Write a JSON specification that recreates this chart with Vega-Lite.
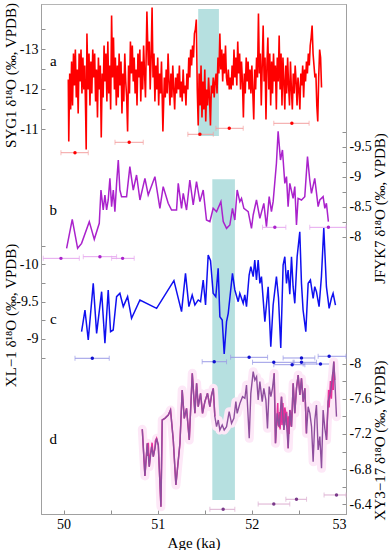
{
"$schema":"https://vega.github.io/schema/vega-lite/v6.json",
"width":305,"height":510,
"autosize":{"type":"none"},
"padding":{"left":41,"top":4,"right":44,"bottom":36},
"config":{"font":"Liberation Serif","view":{"stroke":"#b5b5b5"},
"axis":{"domainColor":"#a0a0a0","tickColor":"#909090","tickSize":-4,"labelPadding":7,"labelFontSize":14,"labelColor":"#000","titleFontSize":15,"titleFontWeight":"normal","titleColor":"#000","grid":false,"labelFont":"Liberation Serif","titleFont":"Liberation Serif"}},
"datasets":{
"a":[{"age":50.05,"v":-12.25},{"age":50.055,"v":-10.7},{"age":50.065,"v":-12.4},{"age":50.075,"v":-11.5},{"age":50.085,"v":-12.7},{"age":50.095,"v":-11.6},{"age":50.105,"v":-12.9},{"age":50.115,"v":-12.1},{"age":50.125,"v":-13.0},{"age":50.135,"v":-11.8},{"age":50.145,"v":-12.5},{"age":50.155,"v":-11.4},{"age":50.165,"v":-12.9},{"age":50.175,"v":-12.2},{"age":50.185,"v":-13.0},{"age":50.195,"v":-11.9},{"age":50.205,"v":-12.8},{"age":50.215,"v":-12.0},{"age":50.225,"v":-12.6},{"age":50.235,"v":-11.3},{"age":50.24,"v":-10.5},{"age":50.248,"v":-13.4},{"age":50.26,"v":-12.0},{"age":50.27,"v":-12.9},{"age":50.28,"v":-11.6},{"age":50.29,"v":-12.7},{"age":50.30,"v":-11.9},{"age":50.31,"v":-13.0},{"age":50.32,"v":-12.3},{"age":50.33,"v":-12.9},{"age":50.34,"v":-11.7},{"age":50.35,"v":-12.5},{"age":50.36,"v":-11.3},{"age":50.37,"v":-12.8},{"age":50.38,"v":-12.0},{"age":50.39,"v":-12.6},{"age":50.40,"v":-10.8},{"age":50.41,"v":-12.4},{"age":50.42,"v":-11.8},{"age":50.43,"v":-13.1},{"age":50.44,"v":-12.2},{"age":50.45,"v":-12.9},{"age":50.46,"v":-11.7},{"age":50.47,"v":-13.2},{"age":50.48,"v":-11.9},{"age":50.49,"v":-12.6},{"age":50.50,"v":-11.5},{"age":50.51,"v":-13.85},{"age":50.52,"v":-12.3},{"age":50.53,"v":-13.3},{"age":50.54,"v":-12.0},{"age":50.55,"v":-12.8},{"age":50.56,"v":-11.6},{"age":50.57,"v":-12.6},{"age":50.58,"v":-11.8},{"age":50.59,"v":-12.9},{"age":50.60,"v":-12.1},{"age":50.61,"v":-12.7},{"age":50.62,"v":-11.4},{"age":50.63,"v":-12.4},{"age":50.64,"v":-11.7},{"age":50.65,"v":-12.9},{"age":50.66,"v":-12.2},{"age":50.67,"v":-11.8},{"age":50.68,"v":-10.95},{"age":50.69,"v":-12.6},{"age":50.70,"v":-11.9},{"age":50.71,"v":-13.2},{"age":50.72,"v":-12.4},{"age":50.73,"v":-13.1},{"age":50.74,"v":-12.2},{"age":50.75,"v":-12.8},{"age":50.76,"v":-11.9},{"age":50.77,"v":-12.5},{"age":50.78,"v":-11.6},{"age":50.79,"v":-12.9},{"age":50.80,"v":-12.3},{"age":50.81,"v":-13.0},{"age":50.82,"v":-11.7},{"age":50.83,"v":-12.7},{"age":50.84,"v":-12.0},{"age":50.85,"v":-13.1},{"age":50.86,"v":-12.4},{"age":50.87,"v":-11.8},{"age":50.885,"v":-13.95},{"age":50.90,"v":-12.6},{"age":50.91,"v":-13.2},{"age":50.92,"v":-12.0},{"age":50.93,"v":-12.8},{"age":50.94,"v":-14.05},{"age":50.95,"v":-12.3},{"age":50.96,"v":-12.9},{"age":50.97,"v":-11.7},{"age":50.98,"v":-12.6},{"age":50.99,"v":-12.0},{"age":51.00,"v":-12.8},{"age":51.01,"v":-11.6},{"age":51.02,"v":-12.4},{"age":51.03,"v":-11.9},{"age":51.04,"v":-12.7},{"age":51.055,"v":-10.95},{"age":51.07,"v":-12.3},{"age":51.08,"v":-11.8},{"age":51.09,"v":-12.5},{"age":51.10,"v":-11.9},{"age":51.11,"v":-12.9},{"age":51.12,"v":-12.2},{"age":51.13,"v":-11.6},{"age":51.14,"v":-12.4},{"age":51.15,"v":-11.8},{"age":51.16,"v":-12.6},{"age":51.17,"v":-12.0},{"age":51.18,"v":-11.5},{"age":51.19,"v":-12.3},{"age":51.20,"v":-11.9},{"age":51.21,"v":-12.4},{"age":51.22,"v":-12.0},{"age":51.23,"v":-12.6},{"age":51.24,"v":-11.8},{"age":51.25,"v":-12.2},{"age":51.26,"v":-11.7},{"age":51.27,"v":-12.5},{"age":51.28,"v":-11.9},{"age":51.29,"v":-12.1},{"age":51.30,"v":-11.6},{"age":51.31,"v":-12.4},{"age":51.32,"v":-12.0},{"age":51.33,"v":-12.8},{"age":51.34,"v":-12.3},{"age":51.35,"v":-13.0},{"age":51.36,"v":-12.6},{"age":51.37,"v":-13.1},{"age":51.38,"v":-12.8},{"age":51.39,"v":-13.4},{"age":51.40,"v":-13.5},{"age":51.41,"v":-13.75},{"age":51.42,"v":-12.0},{"age":51.43,"v":-11.1},{"age":51.44,"v":-12.4},{"age":51.45,"v":-11.6},{"age":51.46,"v":-12.6},{"age":51.47,"v":-11.3},{"age":51.48,"v":-12.2},{"age":51.49,"v":-11.5},{"age":51.50,"v":-12.5},{"age":51.51,"v":-11.2},{"age":51.52,"v":-12.0},{"age":51.53,"v":-11.6},{"age":51.54,"v":-12.3},{"age":51.55,"v":-11.8},{"age":51.56,"v":-11.1},{"age":51.57,"v":-12.1},{"age":51.58,"v":-11.9},{"age":51.59,"v":-12.3},{"age":51.60,"v":-11.8},{"age":51.61,"v":-12.2},{"age":51.62,"v":-12.4},{"age":51.63,"v":-11.9},{"age":51.64,"v":-12.8},{"age":51.65,"v":-12.4},{"age":51.66,"v":-13.4},{"age":51.67,"v":-12.5},{"age":51.68,"v":-13.0},{"age":51.69,"v":-12.2},{"age":51.70,"v":-12.9},{"age":51.71,"v":-12.4},{"age":51.72,"v":-13.1},{"age":51.73,"v":-12.3},{"age":51.74,"v":-12.1},{"age":51.75,"v":-12.5},{"age":51.76,"v":-12.0},{"age":51.77,"v":-12.3},{"age":51.78,"v":-12.0},{"age":51.79,"v":-12.6},{"age":51.80,"v":-12.1},{"age":51.81,"v":-13.0},{"age":51.82,"v":-12.3},{"age":51.83,"v":-12.8},{"age":51.84,"v":-12.1},{"age":51.85,"v":-13.2},{"age":51.86,"v":-12.4},{"age":51.87,"v":-12.9},{"age":51.88,"v":-12.0},{"age":51.89,"v":-12.7},{"age":51.90,"v":-12.2},{"age":51.91,"v":-11.3},{"age":51.92,"v":-12.4},{"age":51.93,"v":-11.9},{"age":51.94,"v":-12.8},{"age":51.95,"v":-12.2},{"age":51.96,"v":-12.7},{"age":51.97,"v":-12.0},{"age":51.98,"v":-12.5},{"age":51.99,"v":-11.9},{"age":52.00,"v":-12.6},{"age":52.02,"v":-11.25},{"age":52.03,"v":-12.5},{"age":52.04,"v":-12.0},{"age":52.05,"v":-12.8},{"age":52.06,"v":-12.3},{"age":52.07,"v":-13.9},{"age":52.08,"v":-12.4},{"age":52.09,"v":-12.9},{"age":52.10,"v":-11.6},{"age":52.11,"v":-12.6},{"age":52.12,"v":-13.6},{"age":52.13,"v":-12.2},{"age":52.14,"v":-12.8},{"age":52.15,"v":-11.25},{"age":52.16,"v":-12.6},{"age":52.17,"v":-13.3},{"age":52.18,"v":-12.0},{"age":52.19,"v":-12.9},{"age":52.20,"v":-11.6},{"age":52.21,"v":-12.7},{"age":52.22,"v":-11.9},{"age":52.23,"v":-12.9},{"age":52.24,"v":-12.2},{"age":52.25,"v":-12.6},{"age":52.26,"v":-11.5},{"age":52.27,"v":-12.8},{"age":52.28,"v":-12.2},{"age":52.29,"v":-13.35},{"age":52.30,"v":-12.0},{"age":52.31,"v":-12.9},{"age":52.32,"v":-11.6},{"age":52.33,"v":-12.8},{"age":52.34,"v":-12.2},{"age":52.35,"v":-11.5},{"age":52.36,"v":-12.6},{"age":52.37,"v":-11.9},{"age":52.38,"v":-12.8},{"age":52.39,"v":-12.1},{"age":52.40,"v":-11.6},{"age":52.41,"v":-12.7},{"age":52.42,"v":-12.0},{"age":52.43,"v":-11.5},{"age":52.44,"v":-12.4},{"age":52.45,"v":-11.9},{"age":52.46,"v":-12.6},{"age":52.47,"v":-12.2},{"age":52.48,"v":-11.6},{"age":52.49,"v":-12.3},{"age":52.50,"v":-12.0},{"age":52.51,"v":-11.5},{"age":52.52,"v":-12.4},{"age":52.53,"v":-12.1},{"age":52.54,"v":-12.6},{"age":52.55,"v":-11.8},{"age":52.56,"v":-12.5},{"age":52.57,"v":-12.2},{"age":52.58,"v":-12.7},{"age":52.59,"v":-12.4},{"age":52.60,"v":-12.9},{"age":52.61,"v":-12.6},{"age":52.62,"v":-13.1},{"age":52.63,"v":-13.3},{"age":52.64,"v":-13.6},{"age":52.65,"v":-12.9},{"age":52.66,"v":-12.6},{"age":52.67,"v":-12.3},{"age":52.68,"v":-12.4},{"age":52.69,"v":-11.6},{"age":52.70,"v":-11.2},{"age":52.71,"v":-12.3},{"age":52.72,"v":-13.0},{"age":52.73,"v":-12.8},{"age":52.74,"v":-12.05}],
"a_err":[{"c":50.121,"lo":49.972,"hi":50.262,"v":-10.42},{"c":50.697,"lo":50.546,"hi":50.846,"v":-10.68},{"c":51.448,"lo":51.32,"hi":51.59,"v":-10.88},{"c":51.76,"lo":51.618,"hi":51.908,"v":-11.03},{"c":52.425,"lo":52.233,"hi":52.608,"v":-11.155}],
"b":[{"age":50.032,"v":-7.811},{"age":50.092,"v":-8.294},{"age":50.149,"v":-7.811},{"age":50.191,"v":-7.894},{"age":50.273,"v":-8.256},{"age":50.326,"v":-7.961},{"age":50.379,"v":-8.228},{"age":50.397,"v":-8.783},{"age":50.421,"v":-8.45},{"age":50.439,"v":-8.7},{"age":50.457,"v":-8.45},{"age":50.474,"v":-8.617},{"age":50.492,"v":-8.978},{"age":50.51,"v":-8.506},{"age":50.528,"v":-8.783},{"age":50.545,"v":-8.422},{"age":50.563,"v":-8.894},{"age":50.581,"v":-9.283},{"age":50.598,"v":-8.783},{"age":50.616,"v":-8.672},{"age":50.634,"v":-8.672},{"age":50.669,"v":-8.672},{"age":50.704,"v":-9.172},{"age":50.74,"v":-8.783},{"age":50.775,"v":-9.033},{"age":50.811,"v":-8.617},{"age":50.864,"v":-8.978},{"age":50.899,"v":-8.7},{"age":50.97,"v":-9.006},{"age":51.023,"v":-8.478},{"age":51.058,"v":-8.839},{"age":51.111,"v":-8.561},{"age":51.147,"v":-8.45},{"age":51.2,"v":-8.45},{"age":51.218,"v":-8.894},{"age":51.253,"v":-8.478},{"age":51.271,"v":-8.728},{"age":51.306,"v":-8.45},{"age":51.341,"v":-8.95},{"age":51.377,"v":-8.533},{"age":51.412,"v":-8.922},{"age":51.448,"v":-8.589},{"age":51.483,"v":-8.783},{"age":51.518,"v":-8.283},{"age":51.554,"v":-8.256},{"age":51.589,"v":-8.478},{"age":51.625,"v":-8.422},{"age":51.671,"v":-8.589},{"age":51.696,"v":-8.256},{"age":51.731,"v":-8.144},{"age":51.766,"v":-8.2},{"age":51.794,"v":-8.478},{"age":51.819,"v":-8.283},{"age":51.844,"v":-8.783},{"age":51.872,"v":-8.589},{"age":51.89,"v":-8.644},{"age":51.915,"v":-8.478},{"age":51.961,"v":-8.422},{"age":51.996,"v":-8.144},{"age":52.014,"v":-8.367},{"age":52.049,"v":-8.617},{"age":52.085,"v":-8.311},{"age":52.127,"v":-8.561},{"age":52.155,"v":-8.172},{"age":52.184,"v":-8.672},{"age":52.208,"v":-8.422},{"age":52.226,"v":-8.589},{"age":52.261,"v":-9.228},{"age":52.279,"v":-9.76},{"age":52.304,"v":-9.283},{"age":52.325,"v":-9.45},{"age":52.35,"v":-8.894},{"age":52.368,"v":-9.006},{"age":52.385,"v":-8.506},{"age":52.403,"v":-8.894},{"age":52.438,"v":-8.644},{"age":52.456,"v":-8.839},{"age":52.474,"v":-8.2},{"age":52.491,"v":-8.644},{"age":52.527,"v":-8.617},{"age":52.562,"v":-8.672},{"age":52.591,"v":-9.339},{"age":52.615,"v":-8.95},{"age":52.633,"v":-8.728},{"age":52.668,"v":-8.978},{"age":52.704,"v":-8.506},{"age":52.722,"v":-8.617},{"age":52.757,"v":-8.672},{"age":52.775,"v":-8.478},{"age":52.792,"v":-8.561},{"age":52.813,"v":-8.256}],
"b_err":[{"c":49.972,"lo":49.784,"hi":50.167,"v":-7.644},{"c":50.386,"lo":50.209,"hi":50.563,"v":-7.672},{"c":50.627,"lo":50.51,"hi":50.75,"v":-7.644},{"c":52.244,"lo":52.113,"hi":52.361,"v":-8.161},{"c":52.813,"lo":52.615,"hi":53.0,"v":-8.161}],
"c":[{"age":50.191,"v":-9.098},{"age":50.227,"v":-9.389},{"age":50.262,"v":-8.987},{"age":50.315,"v":-9.747},{"age":50.351,"v":-9.076},{"age":50.404,"v":-9.635},{"age":50.439,"v":-8.942},{"age":50.474,"v":-9.658},{"age":50.499,"v":-9.098},{"age":50.527,"v":-9.121},{"age":50.563,"v":-9.568},{"age":50.598,"v":-9.613},{"age":50.634,"v":-9.434},{"age":50.68,"v":-9.568},{"age":50.722,"v":-9.277},{"age":50.811,"v":-9.524},{"age":50.988,"v":-9.412},{"age":51.172,"v":-9.783},{"age":51.253,"v":-9.367},{"age":51.295,"v":-9.881},{"age":51.331,"v":-9.434},{"age":51.366,"v":-9.591},{"age":51.395,"v":-9.456},{"age":51.43,"v":-9.524},{"age":51.455,"v":-9.501},{"age":51.483,"v":-9.792},{"age":51.508,"v":-9.456},{"age":51.536,"v":-10.128},{"age":51.561,"v":-10.05},{"age":51.589,"v":-9.613},{"age":51.617,"v":-9.568},{"age":51.642,"v":-9.949},{"age":51.66,"v":-9.3},{"age":51.685,"v":-9.255},{"age":51.706,"v":-8.8},{"age":51.731,"v":-9.233},{"age":51.749,"v":-9.344},{"age":51.794,"v":-9.881},{"age":51.819,"v":-9.658},{"age":51.855,"v":-9.501},{"age":51.872,"v":-9.613},{"age":51.908,"v":-9.479},{"age":51.925,"v":-9.591},{"age":51.943,"v":-9.434},{"age":51.971,"v":-9.859},{"age":51.989,"v":-9.971},{"age":52.014,"v":-9.837},{"age":52.031,"v":-10.06},{"age":52.049,"v":-9.792},{"age":52.067,"v":-10.06},{"age":52.085,"v":-9.747},{"age":52.102,"v":-9.837},{"age":52.138,"v":-9.233},{"age":52.173,"v":-9.702},{"age":52.201,"v":-8.897},{"age":52.226,"v":-9.456},{"age":52.261,"v":-9.837},{"age":52.283,"v":-9.55},{"age":52.307,"v":-8.88},{"age":52.332,"v":-9.993},{"age":52.35,"v":-10.105},{"age":52.368,"v":-9.747},{"age":52.385,"v":-9.926},{"age":52.403,"v":-9.6},{"age":52.421,"v":-10.105},{"age":52.438,"v":-9.702},{"age":52.456,"v":-9.479},{"age":52.481,"v":-10.105},{"age":52.509,"v":-10.44},{"age":52.527,"v":-9.747},{"age":52.544,"v":-9.389},{"age":52.573,"v":-9.098},{"age":52.598,"v":-9.747},{"age":52.622,"v":-9.792},{"age":52.651,"v":-9.546},{"age":52.668,"v":-9.702},{"age":52.686,"v":-9.635},{"age":52.714,"v":-9.434},{"age":52.739,"v":-9.837},{"age":52.764,"v":-10.49},{"age":52.792,"v":-9.702},{"age":52.821,"v":-9.412},{"age":52.845,"v":-9.546},{"age":52.863,"v":-9.613},{"age":52.888,"v":-9.456}],
"c_err":[{"c":50.305,"lo":50.121,"hi":50.485,"v":-8.741},{"c":51.6,"lo":51.472,"hi":51.731,"v":-8.695},{"c":51.971,"lo":51.774,"hi":52.167,"v":-8.754},{"c":52.233,"lo":52.007,"hi":52.449,"v":-8.687},{"c":52.428,"lo":52.233,"hi":52.563,"v":-8.655},{"c":52.527,"lo":52.332,"hi":52.669,"v":-8.745},{"c":52.527,"lo":52.438,"hi":52.687,"v":-8.687},{"c":52.729,"lo":52.545,"hi":52.899,"v":-8.664},{"c":52.821,"lo":52.704,"hi":53.0,"v":-8.768}],
"d":[{"age":50.836,"v":-7.252},{"age":50.864,"v":-6.722},{"age":50.889,"v":-7.093},{"age":50.91,"v":-6.828},{"age":50.935,"v":-7.055},{"age":50.953,"v":-6.941},{"age":50.97,"v":-7.036},{"age":50.988,"v":-7.15},{"age":51.006,"v":-7.074},{"age":51.034,"v":-6.373},{"age":51.048,"v":-7.358},{"age":51.076,"v":-7.377},{"age":51.112,"v":-7.415},{"age":51.136,"v":-7.472},{"age":51.165,"v":-7.131},{"age":51.193,"v":-6.619},{"age":51.236,"v":-7.093},{"age":51.26,"v":-7.699},{"age":51.282,"v":-7.377},{"age":51.306,"v":-7.491},{"age":51.335,"v":-7.131},{"age":51.367,"v":-7.888},{"age":51.395,"v":-7.434},{"age":51.413,"v":-7.775},{"age":51.43,"v":-7.509},{"age":51.455,"v":-7.661},{"age":51.476,"v":-7.434},{"age":51.501,"v":-7.566},{"age":51.529,"v":-7.661},{"age":51.554,"v":-7.509},{"age":51.572,"v":-7.642},{"age":51.59,"v":-7.718},{"age":51.607,"v":-7.396},{"age":51.625,"v":-7.282},{"age":51.643,"v":-7.358},{"age":51.66,"v":-7.244},{"age":51.685,"v":-7.301},{"age":51.706,"v":-7.244},{"age":51.731,"v":-7.282},{"age":51.759,"v":-7.453},{"age":51.784,"v":-7.32},{"age":51.809,"v":-7.377},{"age":51.83,"v":-7.566},{"age":51.844,"v":-7.434},{"age":51.873,"v":-7.547},{"age":51.901,"v":-7.623},{"age":51.926,"v":-7.604},{"age":51.943,"v":-7.756},{"age":51.972,"v":-7.15},{"age":51.989,"v":-7.661},{"age":52.014,"v":-7.907},{"age":52.032,"v":-7.812},{"age":52.05,"v":-7.85},{"age":52.067,"v":-7.585},{"age":52.085,"v":-7.794},{"age":52.11,"v":-7.566},{"age":52.127,"v":-7.718},{"age":52.149,"v":-7.585},{"age":52.166,"v":-7.263},{"age":52.184,"v":-7.737},{"age":52.202,"v":-7.623},{"age":52.219,"v":-7.718},{"age":52.237,"v":-7.888},{"age":52.251,"v":-7.093},{"age":52.269,"v":-7.434},{"age":52.29,"v":-7.282},{"age":52.315,"v":-7.623},{"age":52.34,"v":-7.244},{"age":52.361,"v":-7.434},{"age":52.386,"v":-7.036},{"age":52.403,"v":-7.472},{"age":52.421,"v":-7.282},{"age":52.439,"v":-7.775},{"age":52.456,"v":-7.434},{"age":52.474,"v":-7.718},{"age":52.492,"v":-7.869},{"age":52.51,"v":-7.642},{"age":52.527,"v":-7.831},{"age":52.545,"v":-7.566},{"age":52.563,"v":-7.718},{"age":52.58,"v":-7.206},{"age":52.598,"v":-7.509},{"age":52.616,"v":-7.434},{"age":52.634,"v":-7.282},{"age":52.651,"v":-6.884},{"age":52.669,"v":-7.358},{"age":52.686,"v":-7.528},{"age":52.704,"v":-7.017},{"age":52.722,"v":-7.169},{"age":52.74,"v":-6.809},{"age":52.757,"v":-7.472},{"age":52.775,"v":-7.263},{"age":52.793,"v":-7.131},{"age":52.81,"v":-7.566},{"age":52.828,"v":-7.642},{"age":52.839,"v":-7.699},{"age":52.853,"v":-7.812},{"age":52.87,"v":-8.021},{"age":52.881,"v":-7.812},{"age":52.899,"v":-7.396}],
"d_pink":[{"s":1,"age":50.836,"v":-7.252},{"s":1,"age":50.864,"v":-6.722},{"s":1,"age":50.889,"v":-7.093},{"s":1,"age":50.895,"v":-6.95},{"s":1,"age":50.90,"v":-7.1},{"s":1,"age":50.91,"v":-6.828},{"s":1,"age":50.92,"v":-6.95},{"s":1,"age":50.935,"v":-7.055},{"s":1,"age":50.94,"v":-7.1},{"s":1,"age":50.953,"v":-6.941},{"s":1,"age":50.96,"v":-6.98},{"s":1,"age":50.97,"v":-7.036},{"s":1,"age":50.975,"v":-7.12},{"s":1,"age":50.988,"v":-7.15},{"s":1,"age":51.006,"v":-7.074},{"s":1,"age":51.034,"v":-6.373},{"s":1,"age":51.048,"v":-7.358},{"s":1,"age":51.076,"v":-7.377},{"s":1,"age":51.112,"v":-7.415},{"s":1,"age":51.136,"v":-7.472},{"s":1,"age":51.165,"v":-7.131},{"s":1,"age":51.193,"v":-6.619},{"s":1,"age":51.236,"v":-7.093},{"s":1,"age":51.26,"v":-7.699},{"s":1,"age":51.282,"v":-7.377},{"s":1,"age":51.306,"v":-7.491},{"s":1,"age":51.335,"v":-7.131},{"s":1,"age":51.367,"v":-7.888},{"s":1,"age":51.395,"v":-7.434},{"s":1,"age":51.413,"v":-7.775},{"s":1,"age":51.43,"v":-7.509},{"s":1,"age":51.455,"v":-7.661},{"s":1,"age":51.476,"v":-7.434},{"s":1,"age":51.501,"v":-7.566},{"s":1,"age":51.529,"v":-7.661},{"s":1,"age":51.554,"v":-7.509},{"s":1,"age":51.572,"v":-7.642},{"s":1,"age":51.59,"v":-7.718},{"s":1,"age":51.607,"v":-7.396},{"s":2,"age":52.237,"v":-7.888},{"s":2,"age":52.251,"v":-7.093},{"s":2,"age":52.269,"v":-7.434},{"s":2,"age":52.275,"v":-7.55},{"s":2,"age":52.28,"v":-7.3},{"s":2,"age":52.29,"v":-7.282},{"s":2,"age":52.295,"v":-7.45},{"s":2,"age":52.30,"v":-7.25},{"s":2,"age":52.31,"v":-7.5},{"s":2,"age":52.315,"v":-7.623},{"s":2,"age":52.32,"v":-7.3},{"s":2,"age":52.33,"v":-7.55},{"s":2,"age":52.34,"v":-7.244},{"s":2,"age":52.345,"v":-7.35},{"s":2,"age":52.35,"v":-7.5},{"s":2,"age":52.361,"v":-7.434},{"s":2,"age":52.365,"v":-7.3},{"s":2,"age":52.37,"v":-7.45},{"s":2,"age":52.38,"v":-7.25},{"s":2,"age":52.386,"v":-7.036},{"s":2,"age":52.39,"v":-7.4},{"s":2,"age":52.395,"v":-7.2},{"s":2,"age":52.403,"v":-7.472},{"s":2,"age":52.41,"v":-7.45},{"s":2,"age":52.415,"v":-7.3},{"s":2,"age":52.421,"v":-7.282},{"s":2,"age":52.43,"v":-7.5},{"s":2,"age":52.439,"v":-7.775},{"s":2,"age":52.456,"v":-7.434},{"s":2,"age":52.474,"v":-7.718},{"s":2,"age":52.492,"v":-7.869},{"s":2,"age":52.51,"v":-7.642},{"s":2,"age":52.527,"v":-7.831},{"s":2,"age":52.545,"v":-7.566},{"s":2,"age":52.563,"v":-7.718},{"s":2,"age":52.58,"v":-7.206},{"s":3,"age":52.793,"v":-7.131},{"s":3,"age":52.81,"v":-7.566},{"s":3,"age":52.815,"v":-7.7},{"s":3,"age":52.82,"v":-7.5},{"s":3,"age":52.828,"v":-7.642},{"s":3,"age":52.835,"v":-7.8},{"s":3,"age":52.839,"v":-7.699},{"s":3,"age":52.845,"v":-7.6},{"s":3,"age":52.853,"v":-7.812},{"s":3,"age":52.86,"v":-7.9},{"s":3,"age":52.865,"v":-7.7},{"s":3,"age":52.87,"v":-8.021},{"s":3,"age":52.881,"v":-7.812}],
"d_err":[{"c":51.695,"lo":51.554,"hi":51.819,"v":-6.343},{"c":52.233,"lo":52.067,"hi":52.403,"v":-6.403},{"c":52.474,"lo":52.361,"hi":52.581,"v":-6.457},{"c":52.899,"lo":52.767,"hi":53.0,"v":-6.506}],
"labels":[{"p":"a","age":49.89,"v":-12.72,"t":"a"},{"p":"b","age":49.89,"v":-8.45,"t":"b"},{"p":"c","age":49.89,"v":-9.264,"t":"c"},{"p":"d","age":49.89,"v":-7.139,"t":"d"}]
},
"layer":[
{"data":{"values":[{"age":51.43,"age2":51.65,"v":-14.0125,"v2":-10.8375}]},"mark":{"type":"rect","color":"#b6e0e0"},
 "encoding":{"x":{"field":"age","type":"quantitative","scale":{"domain":[49.76,53],"nice":false,"zero":false},"title":"Age (ka)"},"x2":{"field":"age2"},
 "y":{"field":"v","type":"quantitative","scale":{"domain":[-14.1375,-1.3875],"reverse":true,"nice":false,"zero":false},"axis":null},"y2":{"field":"v2"}}},
{"data":{"values":[{"age":51.58,"age2":51.82,"v":-11.144,"v2":-6.839}]},"mark":{"type":"rect","color":"#b6e0e0"},
 "encoding":{"x":{"field":"age","type":"quantitative","scale":{"domain":[49.76,53],"nice":false,"zero":false},"title":"Age (ka)"},"x2":{"field":"age2"},
 "y":{"field":"v","type":"quantitative","scale":{"domain":[-13.4966,-6.651],"reverse":true,"nice":false,"zero":false},"axis":null},"y2":{"field":"v2"}}},
{"layer":[
 {"data":{"name":"a"},"mark":{"type":"line","color":"#ff0000","strokeWidth":1.6},
  "encoding":{"x":{"field":"age","type":"quantitative","scale":{"domain":[49.76,53],"nice":false,"zero":false},"title":"Age (ka)","axis":{"values":[50,50.5,51,51.5,52,52.5,53],"labelExpr":"datum.value % 1 == 0 ? toString(datum.value) : ''","labelPadding":7,"titlePadding":4}},
  "y":{"field":"v","type":"quantitative","scale":{"domain":[-14.1375,-1.3875],"reverse":true,"nice":false,"zero":false},"title":"SYG1 δ¹⁸O (‰, VPDB)",
   "axis":{"orient":"left","values":[-13.5,-13,-12.5,-12,-11.5,-11],"labelExpr":"datum.value % 1 == 0 ? '-' + toString(abs(datum.value)) : ''","titleX":-31,"titleY":71,"titleAngle":270,"titleAlign":"center","titleBaseline":"middle"}}}},
 {"data":{"name":"a_err"},"mark":{"type":"rule","color":"#f3a0a0","strokeWidth":1},
  "encoding":{"x":{"field":"lo","type":"quantitative","scale":{"domain":[49.76,53],"nice":false,"zero":false},"title":"Age (ka)"},"x2":{"field":"hi"},"y":{"field":"v","type":"quantitative","scale":{"domain":[-14.1375,-1.3875],"reverse":true,"nice":false,"zero":false},"title":"SYG1 δ¹⁸O (‰, VPDB)"}}},
 {"data":{"name":"a_err"},"mark":{"type":"tick","orient":"vertical","color":"#f3a0a0","size":5,"thickness":1},
  "encoding":{"x":{"field":"lo","type":"quantitative","scale":{"domain":[49.76,53],"nice":false,"zero":false},"title":"Age (ka)"},"y":{"field":"v","type":"quantitative","scale":{"domain":[-14.1375,-1.3875],"reverse":true,"nice":false,"zero":false},"title":"SYG1 δ¹⁸O (‰, VPDB)"}}},
 {"data":{"name":"a_err"},"mark":{"type":"tick","orient":"vertical","color":"#f3a0a0","size":5,"thickness":1},
  "encoding":{"x":{"field":"hi","type":"quantitative","scale":{"domain":[49.76,53],"nice":false,"zero":false},"title":"Age (ka)"},"y":{"field":"v","type":"quantitative","scale":{"domain":[-14.1375,-1.3875],"reverse":true,"nice":false,"zero":false},"title":"SYG1 δ¹⁸O (‰, VPDB)"}}},
 {"data":{"name":"a_err"},"mark":{"type":"point","filled":true,"color":"#ff0000","size":12,"opacity":1},
  "encoding":{"x":{"field":"c","type":"quantitative","scale":{"domain":[49.76,53],"nice":false,"zero":false},"title":"Age (ka)"},"y":{"field":"v","type":"quantitative","scale":{"domain":[-14.1375,-1.3875],"reverse":true,"nice":false,"zero":false},"title":"SYG1 δ¹⁸O (‰, VPDB)"}}},
 {"data":{"name":"labels"},"transform":[{"filter":"datum.p == 'a'"}],"mark":{"type":"text","fontSize":15,"font":"Liberation Serif","color":"#000","baseline":"middle","align":"center"},
  "encoding":{"x":{"field":"age","type":"quantitative","scale":{"domain":[49.76,53],"nice":false,"zero":false},"title":"Age (ka)"},"y":{"field":"v","type":"quantitative","scale":{"domain":[-14.1375,-1.3875],"reverse":true,"nice":false,"zero":false},"title":"SYG1 δ¹⁸O (‰, VPDB)"},"text":{"field":"t"}}}
]},
{"layer":[
 {"data":{"name":"b"},"mark":{"type":"line","color":"#aa22cc","strokeWidth":1.5},
  "encoding":{"x":{"field":"age","type":"quantitative","scale":{"domain":[49.76,53],"nice":false,"zero":false},"title":"Age (ka)"},
  "y":{"field":"v","type":"quantitative","scale":{"domain":[-11.8833,-3.3833],"reverse":true,"nice":false,"zero":false},"title":"JFYK7 δ¹⁸O (‰, VPDB)",
   "axis":{"orient":"right","values":[-9.75,-9.5,-9.25,-9,-8.75,-8.5,-8.25,-8],"labelExpr":"(datum.value*2) % 1 == 0 ? '-' + toString(abs(datum.value)) : ''","titleX":33,"titleY":204,"titleAngle":270,"titleAlign":"center","titleBaseline":"middle"}}}},
 {"data":{"name":"b_err"},"mark":{"type":"rule","color":"#e6a6ee","strokeWidth":1},
  "encoding":{"x":{"field":"lo","type":"quantitative","scale":{"domain":[49.76,53],"nice":false,"zero":false},"title":"Age (ka)"},"x2":{"field":"hi"},"y":{"field":"v","type":"quantitative","scale":{"domain":[-11.8833,-3.3833],"reverse":true,"nice":false,"zero":false},"title":"JFYK7 δ¹⁸O (‰, VPDB)"}}},
 {"data":{"name":"b_err"},"mark":{"type":"tick","orient":"vertical","color":"#e6a6ee","size":5,"thickness":1},
  "encoding":{"x":{"field":"lo","type":"quantitative","scale":{"domain":[49.76,53],"nice":false,"zero":false},"title":"Age (ka)"},"y":{"field":"v","type":"quantitative","scale":{"domain":[-11.8833,-3.3833],"reverse":true,"nice":false,"zero":false},"title":"JFYK7 δ¹⁸O (‰, VPDB)"}}},
 {"data":{"name":"b_err"},"mark":{"type":"tick","orient":"vertical","color":"#e6a6ee","size":5,"thickness":1},
  "encoding":{"x":{"field":"hi","type":"quantitative","scale":{"domain":[49.76,53],"nice":false,"zero":false},"title":"Age (ka)"},"y":{"field":"v","type":"quantitative","scale":{"domain":[-11.8833,-3.3833],"reverse":true,"nice":false,"zero":false},"title":"JFYK7 δ¹⁸O (‰, VPDB)"}}},
 {"data":{"name":"b_err"},"mark":{"type":"point","filled":true,"color":"#aa22cc","size":12,"opacity":1},
  "encoding":{"x":{"field":"c","type":"quantitative","scale":{"domain":[49.76,53],"nice":false,"zero":false},"title":"Age (ka)"},"y":{"field":"v","type":"quantitative","scale":{"domain":[-11.8833,-3.3833],"reverse":true,"nice":false,"zero":false},"title":"JFYK7 δ¹⁸O (‰, VPDB)"}}},
 {"data":{"name":"labels"},"transform":[{"filter":"datum.p == 'b'"}],"mark":{"type":"text","fontSize":15,"font":"Liberation Serif","color":"#000","baseline":"middle","align":"center"},
  "encoding":{"x":{"field":"age","type":"quantitative","scale":{"domain":[49.76,53],"nice":false,"zero":false},"title":"Age (ka)"},"y":{"field":"v","type":"quantitative","scale":{"domain":[-11.8833,-3.3833],"reverse":true,"nice":false,"zero":false},"title":"JFYK7 δ¹⁸O (‰, VPDB)"},"text":{"field":"t"}}}
]},
{"layer":[
 {"data":{"name":"c"},"mark":{"type":"line","color":"#1010f0","strokeWidth":1.5},
  "encoding":{"x":{"field":"age","type":"quantitative","scale":{"domain":[49.76,53],"nice":false,"zero":false},"title":"Age (ka)"},
  "y":{"field":"v","type":"quantitative","scale":{"domain":[-13.4966,-6.651],"reverse":true,"nice":false,"zero":false},"title":"XL−1 δ¹⁸O (‰, VPDB)",
   "axis":{"orient":"left","values":[-10.25,-10,-9.75,-9.5,-9.25,-9,-8.75],"labelExpr":"(datum.value*2) % 1 == 0 ? '-' + toString(abs(datum.value)) : ''","titleX":-31,"titleY":311,"titleAngle":270,"titleAlign":"center","titleBaseline":"middle"}}}},
 {"data":{"name":"c_err"},"mark":{"type":"rule","color":"#9a9ae6","strokeWidth":1},
  "encoding":{"x":{"field":"lo","type":"quantitative","scale":{"domain":[49.76,53],"nice":false,"zero":false},"title":"Age (ka)"},"x2":{"field":"hi"},"y":{"field":"v","type":"quantitative","scale":{"domain":[-13.4966,-6.651],"reverse":true,"nice":false,"zero":false},"title":"XL−1 δ¹⁸O (‰, VPDB)"}}},
 {"data":{"name":"c_err"},"mark":{"type":"tick","orient":"vertical","color":"#9a9ae6","size":5,"thickness":1},
  "encoding":{"x":{"field":"lo","type":"quantitative","scale":{"domain":[49.76,53],"nice":false,"zero":false},"title":"Age (ka)"},"y":{"field":"v","type":"quantitative","scale":{"domain":[-13.4966,-6.651],"reverse":true,"nice":false,"zero":false},"title":"XL−1 δ¹⁸O (‰, VPDB)"}}},
 {"data":{"name":"c_err"},"mark":{"type":"tick","orient":"vertical","color":"#9a9ae6","size":5,"thickness":1},
  "encoding":{"x":{"field":"hi","type":"quantitative","scale":{"domain":[49.76,53],"nice":false,"zero":false},"title":"Age (ka)"},"y":{"field":"v","type":"quantitative","scale":{"domain":[-13.4966,-6.651],"reverse":true,"nice":false,"zero":false},"title":"XL−1 δ¹⁸O (‰, VPDB)"}}},
 {"data":{"name":"c_err"},"mark":{"type":"point","filled":true,"color":"#1010d0","size":12,"opacity":1},
  "encoding":{"x":{"field":"c","type":"quantitative","scale":{"domain":[49.76,53],"nice":false,"zero":false},"title":"Age (ka)"},"y":{"field":"v","type":"quantitative","scale":{"domain":[-13.4966,-6.651],"reverse":true,"nice":false,"zero":false},"title":"XL−1 δ¹⁸O (‰, VPDB)"}}},
 {"data":{"name":"labels"},"transform":[{"filter":"datum.p == 'c'"}],"mark":{"type":"text","fontSize":15,"font":"Liberation Serif","color":"#000","baseline":"middle","align":"center"},
  "encoding":{"x":{"field":"age","type":"quantitative","scale":{"domain":[49.76,53],"nice":false,"zero":false},"title":"Age (ka)"},"y":{"field":"v","type":"quantitative","scale":{"domain":[-13.4966,-6.651],"reverse":true,"nice":false,"zero":false},"title":"XL−1 δ¹⁸O (‰, VPDB)"},"text":{"field":"t"}}}
]},
{"layer":[
 {"data":{"name":"d"},"mark":{"type":"line","color":"#fde8f7","strokeWidth":9,"strokeJoin":"round","strokeCap":"round"},
  "encoding":{"x":{"field":"age","type":"quantitative","scale":{"domain":[49.76,53],"nice":false,"zero":false},"title":"Age (ka)"},
  "y":{"field":"v","type":"quantitative","scale":{"domain":[-12.0852,-6.2898],"reverse":true,"nice":false,"zero":false},"title":"XY3−17 δ¹⁸O (‰, VPDB)",
   "axis":{"orient":"right","values":[-8,-7.8,-7.6,-7.4,-7.2,-7,-6.8,-6.6,-6.4],"labelExpr":"abs(round(datum.value*10)) % 4 == 0 ? '-' + toString(abs(datum.value)) : ''","titleX":33,"titleY":436,"titleAngle":270,"titleAlign":"center","titleBaseline":"middle"}}}},
 {"data":{"name":"d_pink"},"mark":{"type":"line","color":"#e8309a","strokeWidth":1.5},
  "encoding":{"x":{"field":"age","type":"quantitative","scale":{"domain":[49.76,53],"nice":false,"zero":false},"title":"Age (ka)"},"y":{"field":"v","type":"quantitative","scale":{"domain":[-12.0852,-6.2898],"reverse":true,"nice":false,"zero":false},"title":"XY3−17 δ¹⁸O (‰, VPDB)"},"detail":{"field":"s","type":"nominal"}}},
 {"data":{"name":"d"},"mark":{"type":"line","color":"#8e4e9e","strokeWidth":1.4},
  "encoding":{"x":{"field":"age","type":"quantitative","scale":{"domain":[49.76,53],"nice":false,"zero":false},"title":"Age (ka)"},"y":{"field":"v","type":"quantitative","scale":{"domain":[-12.0852,-6.2898],"reverse":true,"nice":false,"zero":false},"title":"XY3−17 δ¹⁸O (‰, VPDB)"}}},
 {"data":{"name":"d_err"},"mark":{"type":"rule","color":"#dcaed0","strokeWidth":1},
  "encoding":{"x":{"field":"lo","type":"quantitative","scale":{"domain":[49.76,53],"nice":false,"zero":false},"title":"Age (ka)"},"x2":{"field":"hi"},"y":{"field":"v","type":"quantitative","scale":{"domain":[-12.0852,-6.2898],"reverse":true,"nice":false,"zero":false},"title":"XY3−17 δ¹⁸O (‰, VPDB)"}}},
 {"data":{"name":"d_err"},"mark":{"type":"tick","orient":"vertical","color":"#dcaed0","size":5,"thickness":1},
  "encoding":{"x":{"field":"lo","type":"quantitative","scale":{"domain":[49.76,53],"nice":false,"zero":false},"title":"Age (ka)"},"y":{"field":"v","type":"quantitative","scale":{"domain":[-12.0852,-6.2898],"reverse":true,"nice":false,"zero":false},"title":"XY3−17 δ¹⁸O (‰, VPDB)"}}},
 {"data":{"name":"d_err"},"mark":{"type":"tick","orient":"vertical","color":"#dcaed0","size":5,"thickness":1},
  "encoding":{"x":{"field":"hi","type":"quantitative","scale":{"domain":[49.76,53],"nice":false,"zero":false},"title":"Age (ka)"},"y":{"field":"v","type":"quantitative","scale":{"domain":[-12.0852,-6.2898],"reverse":true,"nice":false,"zero":false},"title":"XY3−17 δ¹⁸O (‰, VPDB)"}}},
 {"data":{"name":"d_err"},"mark":{"type":"point","filled":true,"color":"#7a3a8a","size":12,"opacity":1},
  "encoding":{"x":{"field":"c","type":"quantitative","scale":{"domain":[49.76,53],"nice":false,"zero":false},"title":"Age (ka)"},"y":{"field":"v","type":"quantitative","scale":{"domain":[-12.0852,-6.2898],"reverse":true,"nice":false,"zero":false},"title":"XY3−17 δ¹⁸O (‰, VPDB)"}}},
 {"data":{"name":"labels"},"transform":[{"filter":"datum.p == 'd'"}],"mark":{"type":"text","fontSize":15,"font":"Liberation Serif","color":"#000","baseline":"middle","align":"center"},
  "encoding":{"x":{"field":"age","type":"quantitative","scale":{"domain":[49.76,53],"nice":false,"zero":false},"title":"Age (ka)"},"y":{"field":"v","type":"quantitative","scale":{"domain":[-12.0852,-6.2898],"reverse":true,"nice":false,"zero":false},"title":"XY3−17 δ¹⁸O (‰, VPDB)"},"text":{"field":"t"}}}
]}
],
"resolve":{"scale":{"y":"independent"},"axis":{"y":"independent"}}
}
